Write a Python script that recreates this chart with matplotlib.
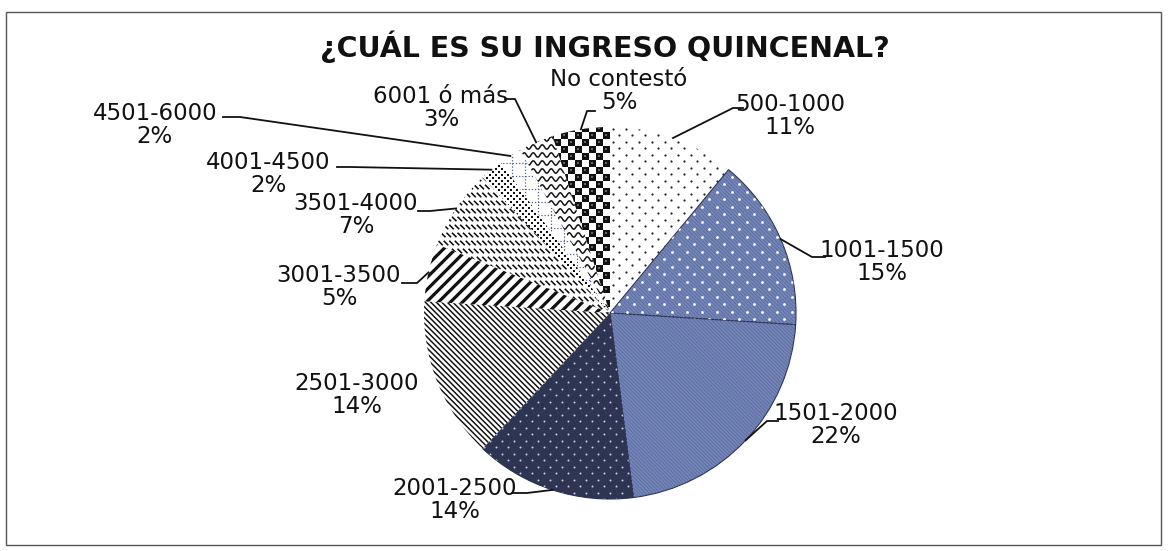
import numpy as np
import matplotlib.pyplot as plt
from matplotlib.collections import LineCollection
from matplotlib.patches import Rectangle

W, H = 1168, 551

# datos
categorias = ['500-1000', '1001-1500', '1501-2000', '2001-2500', '2501-3000',
              '3001-3500', '3501-4000', '4001-4500', '4501-6000', '6001 ó más',
              'No contestó']
porcentajes = [11, 15, 22, 14, 14, 5, 7, 2, 2, 3, 5]
titulo = '¿CUÁL ES SU INGRESO QUINCENAL?'

# centro de cada bloque de texto (pixeles de la imagen, y hacia abajo)
pos_etiquetas = [(790, 116), (882, 262), (836, 425), (455, 500), (357, 395),
                 (339, 287), (356, 215), (268, 174), (155, 125), (441, 108),
                 (619, 91)]
# tramo horizontal de la linea guia: (lado del texto, lado del pastel)
codos = [((743, 108), (733, 108)), ((825, 257), (812, 257)),
         ((778, 421), (767, 421)), ((512, 493), (527, 493)), None,
         ((402, 283), (417, 283)), ((418, 211), (430, 211)),
         ((337, 167), (350, 167)), ((223, 117), (240, 117)),
         ((505, 99), (515, 99)), ((595, 111), (587, 111))]


def px(x, y):
    # convierte coordenadas de imagen (y hacia abajo) a coordenadas del eje
    return x, H - y


fig = plt.figure(figsize=(W / 100, H / 100), dpi=100)
ax = fig.add_axes([0, 0, 1, 1])

cx, cy = px(610, 313)
R = 186

wedges, _ = ax.pie(porcentajes, startangle=90, counterclock=False,
                   center=(cx, cy), radius=R, colors=['white'] * len(porcentajes),
                   wedgeprops=dict(linewidth=0))
ax.set_xlim(0, W)
ax.set_ylim(0, H)
ax.set_aspect('auto')
ax.axis('off')

x0, x1 = cx - R, cx + R
y0, y1 = cy - R, cy + R


# ---- tramas (rellenos de estilo Excel) recortadas a cada rebanada ----
def puntos(w, paso_x, paso_y, d, color, marker='o', escalonado=True):
    xs, ys = [], []
    for i, y in enumerate(np.arange(y0, y1 + paso_y, paso_y)):
        off = paso_x / 2 if (escalonado and i % 2) else 0
        for x in np.arange(x0 + off, x1 + paso_x, paso_x):
            xs.append(x)
            ys.append(y)
    sc = ax.scatter(xs, ys, s=(d * 0.72) ** 2, c=color, marker=marker,
                    linewidths=0, zorder=3)
    sc.set_clip_path(w)


def rayas(w, angulo, paso, lw, color, ls='-'):
    t = np.deg2rad(angulo)
    d = np.array([np.cos(t), np.sin(t)])
    n = np.array([-d[1], d[0]])
    segs = []
    for k in np.arange(-R * 1.5, R * 1.5, paso):
        c = np.array([cx, cy]) + n * k
        segs.append([c - d * R * 1.5, c + d * R * 1.5])
    lc = LineCollection(segs, colors=color, linewidths=lw * 0.72,
                        linestyles=ls, zorder=3)
    ax.add_collection(lc)
    lc.set_clip_path(w)


def guiones(w, paso_x, paso_y, largo, lw, color):
    segs = []
    for i, y in enumerate(np.arange(y0, y1 + paso_y, paso_y)):
        off = paso_x / 2 if i % 2 else 0
        for x in np.arange(x0 + off, x1 + paso_x, paso_x):
            segs.append([(x - largo / 2, y + largo / 2), (x + largo / 2, y - largo / 2)])
    lc = LineCollection(segs, colors=color, linewidths=lw * 0.72, zorder=3)
    ax.add_collection(lc)
    lc.set_clip_path(w)


def ondas(w, paso, amp, lam, lw, color):
    xs = np.arange(x0, x1 + 1, 0.5)
    segs = []
    for y in np.arange(y0, y1 + paso, paso):
        segs.append(np.column_stack([xs, y + amp * np.sin(2 * np.pi * xs / lam)]))
    lc = LineCollection(segs, colors=color, linewidths=lw * 0.72, zorder=3)
    ax.add_collection(lc)
    lc.set_clip_path(w)


def cuadros(w, lado, color, interior):
    xs, ys = [], []
    for i, y in enumerate(np.arange(y0, y1 + lado, lado)):
        for j, x in enumerate(np.arange(x0, x1 + lado, lado)):
            if (i + j) % 2 == 0:
                xs.append(x)
                ys.append(y)
    sc = ax.scatter(xs, ys, s=(lado * 0.72) ** 2, c=color, marker='s',
                    linewidths=0, zorder=3)
    sc.set_clip_path(w)
    sc2 = ax.scatter(xs, ys, s=(lado * 0.35 * 0.72) ** 2, c=interior, marker='s',
                     linewidths=0, zorder=3)
    sc2.set_clip_path(w)


azul = '#7485b8'
marino = '#2e3552'

# 500-1000
puntos(wedges[0], 13, 6.5, 2.2, '#222222')
# 1001-1500
wedges[1].set_facecolor(azul)
rayas(wedges[1], -45, 2.6, 0.7, '#58689c')
puntos(wedges[1], 15, 7.5, 2.8, 'white')
# 1501-2000
wedges[2].set_facecolor(azul)
rayas(wedges[2], -45, 2.6, 0.7, '#58689c')
# 2001-2500
wedges[3].set_facecolor(marino)
puntos(wedges[3], 12, 6.5, 2.0, '#c9cde0')
# 2501-3000
rayas(wedges[4], -45, 3.9, 1.5, '#111111')
# 3001-3500
rayas(wedges[5], 45, 8.5, 3.2, '#111111')
# 3501-4000
guiones(wedges[6], 5.5, 8, 4.5, 1.6, '#111111')
# 4001-4500
puntos(wedges[7], 6, 3, 2.8, '#111111', marker='s')
# 4501-6000
rayas(wedges[8], 0, 13, 1.2, '#4a5580', ls=':')
rayas(wedges[8], 90, 13, 1.2, '#4a5580', ls=':')
# 6001 ó más
ondas(wedges[9], 8, 2.2, 9, 1.5, '#111111')
# No contestó
cuadros(wedges[10], 7, '#111111', '#666666')

for i in (1, 2, 3):
    wedges[i].set_edgecolor('#2a3050')
    wedges[i].set_linewidth(0.8)

# ---- etiquetas y lineas guia ----
acum = 0
for nombre, valor, pos, codo in zip(categorias, porcentajes, pos_etiquetas, codos):
    medio = 90 - 360 * (acum + valor / 2) / sum(porcentajes)
    acum += valor
    ax.text(*px(*pos), f'{nombre}\n{valor}%', ha='center', va='center',
            fontsize=16.5, family='DejaVu Sans', color='#111111', linespacing=0.95,
            zorder=5)
    if codo is None:
        continue
    ex = cx + R * np.cos(np.deg2rad(medio))
    ey = cy + R * np.sin(np.deg2rad(medio))
    a = px(*codo[0])
    b = px(*codo[1])
    ax.plot([a[0], b[0], ex], [a[1], b[1], ey], color='#111111', lw=1.3, zorder=4)

ax.text(*px(605, 47), titulo, ha='center', va='center', fontsize=20.5,
        fontweight='bold', family='DejaVu Sans', color='#111111')

# marco
ax.add_patch(Rectangle(px(6, 545), 1155, 533, fill=False, edgecolor='#555555',
                       linewidth=1.0, zorder=6))

fig.savefig('out.png', dpi=100)
